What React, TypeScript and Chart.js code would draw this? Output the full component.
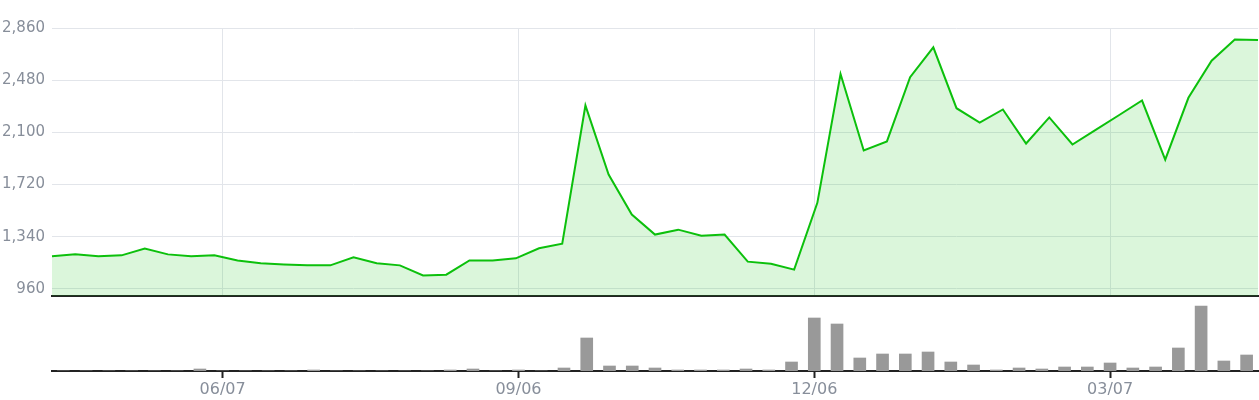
import React, { useEffect, useRef } from 'react';
import { Chart, registerables } from 'chart.js';

Chart.register(...registerables);

// Weekly dates (MM/DD)
const dates = [
  '04/19', '04/26', '05/03', '05/10', '05/17', '05/24', '05/31', '06/07', '06/14', '06/21',
  '06/28', '07/05', '07/12', '07/19', '07/26', '08/02', '08/09', '08/16', '08/23', '08/30',
  '09/06', '09/13', '09/20', '09/27', '10/04', '10/11', '10/18', '10/25', '11/01', '11/08',
  '11/15', '11/22', '11/29', '12/06', '12/13', '12/20', '12/27', '01/03', '01/10', '01/17',
  '01/24', '01/31', '02/07', '02/14', '02/21', '02/28', '03/07', '03/14', '03/21', '03/28',
  '04/04', '04/11', '04/18',
];

// Tick labels shown on the date axis
const shownDates = ['06/07', '09/06', '12/06', '03/07'];

// Price series
const prices = [
  1198, 1212, 1198, 1205, 1254, 1212, 1198, 1205, 1168, 1147,
  1139, 1132, 1132, 1190, 1147, 1132, 1059, 1064, 1168, 1168,
  1183, 1256, 1290, 2296, 1793, 1502, 1356, 1392, 1348, 1356,
  1159, 1144, 1101, 1587, 2525, 1968, 2034, 2502, 2719, 2276,
  2172, 2267, 2019, 2209, 2012, 2119, 2225, 2332, 1902, 2352,
  2622, 2777, 2772,
];

// Volume series
const volumes = [
  0, 0, 0, 0, 0, 0, 2, 0, 0, 0,
  0, 1, 0, 0, 0, 0, 0, 1, 2, 0,
  1, 0, 3, 33, 5, 5, 3, 1, 1, 1,
  2, 1, 9, 53, 47, 13, 17, 17, 19, 9,
  6, 1, 3, 2, 4, 4, 8, 3, 4, 23,
  65, 10, 16,
];

// Price axis tick labels
const priceTicks = [960, 1340, 1720, 2100, 2480, 2860];
const priceMin = 909;
const priceMax = 2860;
const volumeMax = 73;

const GRID = '#e2e5ea';
const AXIS = '#222222';
const LABEL = '#878e9a';
const FONT = 'DejaVu Sans';

function keepShown(scale: any) {
  scale.ticks = scale.ticks.filter((t: any) => shownDates.includes(dates[t.value]));
}

export default function App() {
  const topRef = useRef<HTMLCanvasElement>(null);
  const botRef = useRef<HTMLCanvasElement>(null);

  useEffect(() => {
    const top = new Chart(topRef.current as HTMLCanvasElement, {
      type: 'line',
      data: {
        labels: dates,
        datasets: [
          {
            data: prices,
            borderColor: '#0cc00c',
            backgroundColor: 'rgba(12,192,12,0.15)',
            fill: 'start',
            borderWidth: 2,
            pointRadius: 0,
            tension: 0,
            xAxisID: 'x',
            yAxisID: 'y',
          },
        ],
      },
      options: {
        animation: false,
        responsive: false,
        devicePixelRatio: 1,
        layout: { padding: { top: 28, right: 1, left: 0, bottom: 0 } },
        plugins: { legend: { display: false }, tooltip: { enabled: false } },
        scales: {
          x: { type: 'category', display: false, offset: false },
          xg: {
            type: 'category',
            position: 'bottom',
            offset: true,
            labels: dates,
            afterBuildTicks: keepShown,
            afterFit: (s: any) => {
              s.height = 2;
              s.paddingLeft = 0;
              s.paddingRight = 0;
            },
            ticks: { display: false, autoSkip: false },
            grid: { color: GRID, lineWidth: 1, drawTicks: false, offset: false },
            border: { display: true, color: AXIS, width: 2 },
          },
          y: {
            min: priceMin,
            max: priceMax,
            afterBuildTicks: (s: any) => {
              s.ticks = priceTicks.map((v) => ({ value: v }));
            },
            afterFit: (s: any) => {
              s.width = 52;
              s.paddingTop = 0;
              s.paddingBottom = 0;
            },
            ticks: {
              padding: 7,
              color: LABEL,
              font: { family: FONT, size: 15 },
              callback: (v: any) => Number(v).toLocaleString('en-US'),
            },
            grid: { color: GRID, drawTicks: false },
            border: { display: false },
          },
        },
      } as any,
    });

    const bot = new Chart(botRef.current as HTMLCanvasElement, {
      type: 'bar',
      data: {
        labels: dates,
        datasets: [
          {
            data: volumes,
            backgroundColor: '#999999',
            barThickness: 12,
          },
        ],
      },
      options: {
        animation: false,
        responsive: false,
        devicePixelRatio: 1,
        layout: { padding: { top: 0, right: 1, left: 52, bottom: 0 } },
        plugins: { legend: { display: false }, tooltip: { enabled: false } },
        scales: {
          x: {
            offset: true,
            afterBuildTicks: keepShown,
            afterFit: (s: any) => {
              s.height = 29;
              s.paddingLeft = 0;
              s.paddingRight = 0;
            },
            ticks: {
              autoSkip: false,
              maxRotation: 0,
              padding: 2,
              color: LABEL,
              font: { family: FONT, size: 16 },
            },
            grid: {
              offset: false,
              drawOnChartArea: false,
              drawTicks: true,
              tickLength: 7,
              tickWidth: 2,
              tickColor: AXIS,
            },
            border: { display: true, color: AXIS, width: 2 },
          },
          y: { display: false, min: 0, max: volumeMax },
        },
      } as any,
    });

    return () => {
      top.destroy();
      bot.destroy();
    };
  }, []);

  return (
    <div style={{ position: 'absolute', left: 0, top: 0, width: 1259, height: 400, background: '#ffffff' }}>
      <canvas
        ref={topRef}
        width={1259}
        height={298}
        style={{ position: 'absolute', left: 0, top: 0, width: 1259, height: 298 }}
      />
      <canvas
        ref={botRef}
        width={1259}
        height={102}
        style={{ position: 'absolute', left: 0, top: 298, width: 1259, height: 102 }}
      />
    </div>
  );
}
